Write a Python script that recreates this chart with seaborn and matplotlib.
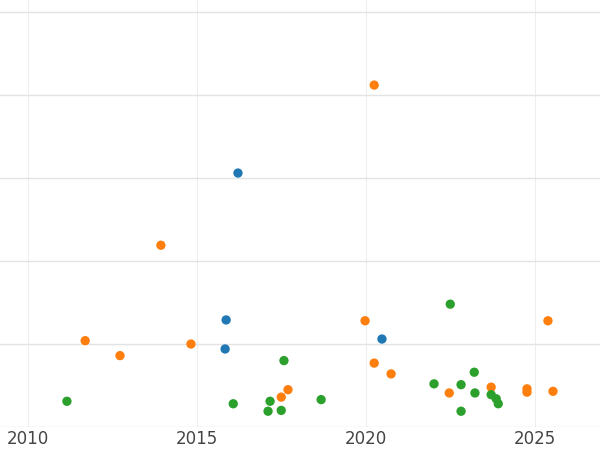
import pandas as pd
import seaborn as sns
import matplotlib.pyplot as plt

blue_x = [2016.21, 2015.86, 2015.83, 2020.47]
blue_y = [3.06, 1.29, 0.94, 1.06]
orange_x = [2020.24, 2013.93, 2011.69, 2012.72, 2014.82, 2019.97, 2020.24, 2020.74,
            2017.69, 2017.49, 2022.46, 2023.70, 2024.76, 2024.76, 2025.53, 2025.38]
orange_y = [4.12, 2.19, 1.04, 0.86, 1.00, 1.28, 0.77, 0.64,
            0.45, 0.36, 0.41, 0.48, 0.46, 0.42, 0.43, 1.28]
green_x = [2011.15, 2016.07, 2017.16, 2017.10, 2017.49, 2017.57, 2018.67, 2022.01,
           2022.49, 2022.81, 2022.81, 2023.20, 2023.22, 2023.70, 2023.85, 2023.91]
green_y = [0.31, 0.28, 0.31, 0.19, 0.20, 0.80, 0.33, 0.52,
           1.48, 0.51, 0.19, 0.66, 0.41, 0.39, 0.34, 0.28]

df = pd.concat([
    pd.DataFrame({"x": blue_x, "y": blue_y, "group": "A"}),
    pd.DataFrame({"x": orange_x, "y": orange_y, "group": "B"}),
    pd.DataFrame({"x": green_x, "y": green_y, "group": "C"}),
])

sns.set_theme(style="whitegrid")
fig = plt.figure(figsize=(6, 4.5), dpi=100)
ax = fig.add_axes([0, 23 / 450, 1, 427 / 450])
sns.scatterplot(data=df, x="x", y="y", hue="group",
                palette=["#1f77b4", "#ff7f0e", "#2ca02c"],
                s=45, edgecolor="none", legend=False, ax=ax)
ax.set_xlim(2009.17, 2026.92)
ax.set_ylim(0, 5.145)
ax.set_xticks([2010, 2015, 2020, 2025])
ax.set_yticks([0, 1, 2, 3, 4, 5])
ax.set_yticklabels([])
ax.set_xlabel("")
ax.set_ylabel("")
ax.tick_params(axis="x", labelsize=12, colors="#444444", pad=2, length=0)
ax.tick_params(axis="y", length=0)
ax.grid(axis="x", color="#eeeeee", linewidth=0.8)
ax.grid(axis="y", color="#e3e3e3", linewidth=1)
for s in ax.spines.values():
    s.set_visible(False)
fig.savefig("out.png", dpi=100)
